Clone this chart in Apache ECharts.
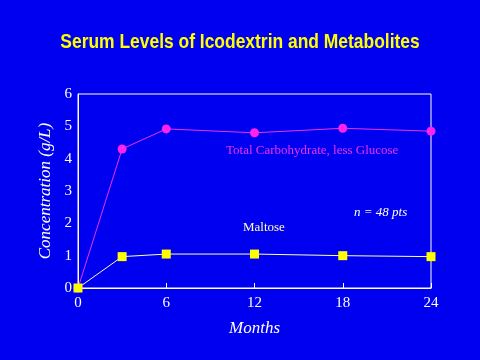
<!DOCTYPE html>
<html><head><meta charset="utf-8">
<script src="https://cdn.jsdelivr.net/npm/echarts@6/dist/echarts.min.js"></script>
<style>html,body{margin:0;padding:0;background:#0000f0;}#c{width:480px;height:360px;}</style>
</head><body><div id="c"></div>
<script>
const months = [0, 3, 6, 12, 18, 24];
const totalCarb = [0, 4.3, 4.92, 4.8, 4.94, 4.85];
const maltose = [0, 0.97, 1.05, 1.05, 1.0, 0.97];
const xTicks = [0, 6, 12, 18, 24];
const titleText = 'Serum Levels of Icodextrin and Metabolites';
const carbLabel = 'Total Carbohydrate, less Glucose';
const maltLabel = 'Maltose';
const nLabel = 'n = 48 pts';

const chart = echarts.init(document.getElementById('c'));
const serif = '"Liberation Serif", "DejaVu Serif", serif';
chart.setOption({
  backgroundColor: '#0000f0',
  animation: false,
  grid: { left: 78, right: 49, top: 94, bottom: 72, show: true, borderColor: '#fff', borderWidth: 1 },
  xAxis: {
    type: 'value', min: 0, max: 24, interval: 6,
    name: 'Months', nameLocation: 'middle', nameGap: 32,
    nameTextStyle: { color: '#fff', fontSize: 17, fontStyle: 'italic', fontFamily: serif },
    axisLine: { lineStyle: { color: '#fff', width: 1 } },
    axisTick: { inside: true, length: 5, lineStyle: { color: '#fff' } },
    axisLabel: { color: '#fff', fontSize: 15, fontFamily: serif, margin: 8,
      formatter: v => xTicks.includes(v) ? String(v) : '' },
    splitLine: { show: false }
  },
  yAxis: {
    type: 'value', min: 0, max: 6, interval: 1,
    name: 'Concentration (g/L)', nameLocation: 'middle', nameGap: 24, nameRotate: 90,
    nameTextStyle: { color: '#fff', fontSize: 17, fontStyle: 'italic', fontFamily: serif },
    axisLine: { show: true, lineStyle: { color: '#fff', width: 1 } },
    axisTick: { show: false },
    axisLabel: { color: '#fff', fontSize: 15, fontFamily: serif, margin: 6 },
    splitLine: { show: false }
  },
  series: [
    {
      type: 'line', data: months.map((m, i) => [m, totalCarb[i]]),
      symbol: 'circle', symbolSize: 9, clip: false,
      lineStyle: { color: '#f030f0', width: 1 },
      itemStyle: { color: '#ff22ee' }
    },
    {
      type: 'line', data: months.map((m, i) => [m, maltose[i]]),
      symbol: 'rect', symbolSize: 9, clip: false,
      lineStyle: { color: '#ffffc8', width: 1 },
      itemStyle: { color: '#ffff00' }
    }
  ],
  graphic: [
    { type: 'text', x: 240, y: 42, scaleX: 0.83, originX: 0,
      style: { text: titleText, fill: '#ffff00', align: 'center', verticalAlign: 'middle',
        font: 'bold 21px "Liberation Sans", Arial, sans-serif',
        textShadowColor: '#000', textShadowOffsetX: 2, textShadowOffsetY: 2, textShadowBlur: 0 } },
    { type: 'text', left: 226, top: 144, style: { text: carbLabel, fill: '#f030f0', font: '13px ' + serif } },
    { type: 'text', left: 243, top: 221, style: { text: maltLabel, fill: '#ffffc0', font: '13px ' + serif } },
    { type: 'text', left: 354, top: 206, style: { text: nLabel, fill: '#ffffff', font: 'italic 13px ' + serif } }
  ]
});
</script></body></html>
